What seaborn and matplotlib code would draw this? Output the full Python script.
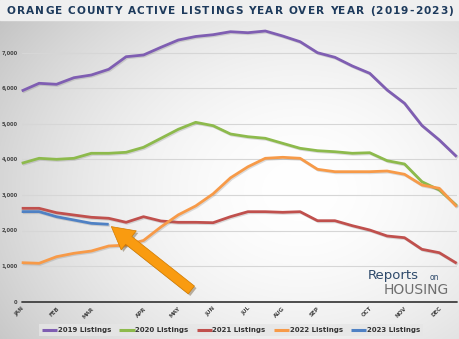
import numpy as np
import pandas as pd
import matplotlib
matplotlib.use("Agg")
import matplotlib.pyplot as plt
import seaborn as sns
from matplotlib import patheffects as pe

# ---------------- data ----------------
month_positions = [0, 2, 4, 7, 9, 11, 13, 15, 17, 20, 22, 24]
month_labels = ["JAN", "FEB", "MAR", "APR", "MAY", "JUN", "JUL", "AUG", "SEP", "OCT", "NOV", "DEC"]
y_ticks = [0, 1000, 2000, 3000, 4000, 5000, 6000, 7000]

listings_2019 = [5920, 6135, 6107, 6292, 6368, 6528, 6882, 6930, 7146, 7351, 7450, 7500, 7584,
                 7556, 7604, 7463, 7303, 6994, 6865, 6621, 6416, 5947, 5573, 4950, 4542, 4073]
listings_2020 = [3888, 4028, 4000, 4028, 4169, 4169, 4197, 4337, 4590, 4843, 5039, 4944, 4711,
                 4635, 4590, 4449, 4309, 4242, 4213, 4169, 4185, 3961, 3868, 3371, 3138, 2700]
listings_2021 = [2623, 2623, 2500, 2435, 2371, 2343, 2230, 2388, 2267, 2230, 2230, 2219, 2388,
                 2528, 2528, 2511, 2528, 2275, 2275, 2135, 2014, 1846, 1798, 1472, 1376, 1079]
listings_2022 = [1096, 1079, 1264, 1360, 1424, 1565, 1590, 1720, 2100, 2440, 2690, 3030, 3480,
                 3790, 4028, 4056, 4028, 3719, 3652, 3652, 3652, 3671, 3579, 3278, 3185, 2669]
listings_2023 = [2530, 2530, 2388, 2295, 2202, 2174]

series_names = ["2019 Listings", "2020 Listings", "2021 Listings", "2022 Listings", "2023 Listings"]
series_values = [listings_2019, listings_2020, listings_2021, listings_2022, listings_2023]
colors = ["#7f5eb2", "#8dba4c", "#c0504d", "#f79a48", "#4f81c4"]

rows = []
for name, vals in zip(series_names, series_values):
    for i, v in enumerate(vals):
        rows.append({"idx": i, "value": v, "series": name})
df = pd.DataFrame(rows)

# ---------------- figure ----------------
W, H = 460, 339
fig = plt.figure(figsize=(W / 100, H / 100), dpi=100)

def fx(x):
    return x / W

def fy(y):
    return 1 - y / H

# background radial gradient
bg = fig.add_axes([0, 0, 1, 1], zorder=-10)
yy, xx = np.mgrid[0:H, 0:W]
d = np.sqrt(((xx - 300) / 340.0) ** 2 + ((yy - 190) / 270.0) ** 2)
val = np.clip(1.0 - 0.2 * d ** 1.8, 0.76, 1.0)
img = np.dstack([val, val, val])
bg.imshow(img, extent=[0, W, H, 0], aspect="auto", interpolation="bilinear")
bg.add_patch(plt.Rectangle((0, 0), W, 20, color="#efefef", zorder=2))
bg.set_xlim(0, W)
bg.set_ylim(H, 0)
bg.axis("off")

sns.set_style("white")
ax = fig.add_axes([fx(21.7), fy(301.7), fx(456.7) - fx(21.7), fy(16.9) - fy(301.7)])
ax.patch.set_alpha(0)

palette = dict(zip(series_names, colors))
sns.lineplot(data=df, x="idx", y="value", hue="series", palette=palette,
             linewidth=2.0, ax=ax, legend=True, zorder=3)
for ln in ax.get_lines():
    ln.set_path_effects([pe.SimpleLineShadow(offset=(0.8, -0.8), shadow_color="#666666", alpha=0.22),
                         pe.Normal()])
    ln.set_clip_on(False)
    ln.set_solid_capstyle("butt")

ax.set_xlim(0, 25)
ax.set_ylim(0, 8000)
ax.set_yticks(y_ticks)
ax.set_yticklabels([f"{v:,}" for v in y_ticks], fontsize=3.7, fontweight="bold", color="#444444")
ax.set_xticks(month_positions)
ax.set_xticklabels(month_labels, fontsize=4.0, fontweight="bold", color="#444444",
                   rotation=45, ha="right", rotation_mode="anchor")
ax.tick_params(axis="both", length=0)
ax.tick_params(axis="y", pad=3)
ax.tick_params(axis="x", pad=3)
for v in y_ticks[1:]:
    ax.axhline(v, color="#d6d6d6", lw=0.8, zorder=1)
ax.axhline(0, color="#404040", lw=1.3, zorder=2, clip_on=False)
for s in ax.spines.values():
    s.set_visible(False)
ax.set_xlabel("")
ax.set_ylabel("")

# legend
handles, labels = ax.get_legend_handles_labels()
ax.get_legend().remove()
leg = fig.legend(handles, labels, loc="center", bbox_to_anchor=(fx(231), fy(330)), ncol=5,
                 fontsize=5, frameon=True, facecolor="#e6e6e6", edgecolor="none",
                 handlelength=2.2, handletextpad=0.1, columnspacing=1.15, borderpad=0.45,
                 fancybox=False)
for t in leg.get_texts():
    t.set_fontweight("bold")
    t.set_color("#333333")
for h in leg.legend_handles:
    h.set_linewidth(2.2)
    h.set_path_effects([])

# title with letter spacing (characters placed one by one)
title = "ORANGE COUNTY ACTIVE LISTINGS YEAR OVER YEAR (2019-2023)"
title_kw = dict(fontsize=7.6, fontweight="bold", color="#1d3a5c", family="DejaVu Sans",
                va="baseline", ha="left")
renderer = fig.canvas.get_renderer()

def text_width(s):
    t = fig.text(0, 0, s, **title_kw)
    w = t.get_window_extent(renderer=renderer).width
    t.remove()
    return w

base = text_width("HH")
advances = [text_width("H" + c + "H") - base for c in title]
natural = sum(advances[:-1]) + text_width(title[-1])
left_px, right_px = 7.0, 453.0
track = ((right_px - left_px) - natural) / (len(title) - 1)
xpos = left_px
for c, adv in zip(title, advances):
    if c != " ":
        fig.text(fx(xpos), fy(14), c, **title_kw)
    xpos += adv + track

# arrow
ax.annotate("", xy=(5.15, 2110), xytext=(9.75, 330), xycoords="data", textcoords="data",
            arrowprops=dict(arrowstyle="simple,head_length=1.6,head_width=1.75,tail_width=0.72",
                            mutation_scale=10, facecolor="#f99b10", edgecolor="#d27c00",
                            linewidth=0.5, shrinkA=0, shrinkB=0,
                            path_effects=[pe.SimplePatchShadow(offset=(1.5, -1.5), alpha=0.35),
                                          pe.Normal()]),
            zorder=6, annotation_clip=False)

# logo text
fig.text(fx(368), fy(276), "Reports", ha="left", va="center", fontsize=9.5,
         color="#2e4a6b", family="DejaVu Sans")
fig.text(fx(430), fy(277), "on", ha="left", va="center", fontsize=5.5,
         color="#2e4a6b", family="DejaVu Sans")
fig.text(fx(384), fy(289.5), "HOUSING", ha="left", va="center", fontsize=10,
         color="#6e6e6e", family="DejaVu Sans")

fig.savefig("out.png", dpi=100)
